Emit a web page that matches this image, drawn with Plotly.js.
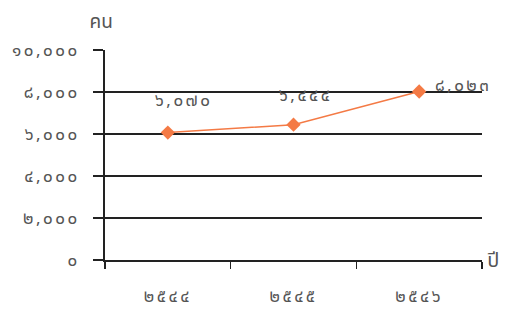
<!DOCTYPE html>
<html><head><meta charset="utf-8">
<script src="https://cdn.plot.ly/plotly-3.0.1.min.js"></script>
<style>
html,body{margin:0;padding:0;background:#fff;}
.xtick text, .ytick text, .annotation-text { letter-spacing: 2.5px; }
.annotation[data-index="3"] .annotation-text, .annotation[data-index="4"] .annotation-text { letter-spacing: 0; }
</style>
</head><body><div id="chart" style="width:529px;height:324px;"></div>
<script>
const years = ['๒๕๔๔', '๒๕๔๕', '๒๕๔๖'];
const people = [6070, 6444, 8023];
const pointLabels = ['๖,๐๗๐', '๖,๔๔๔', '๘,๐๒๓'];
const yTickVals = [0, 2000, 4000, 6000, 8000, 10000];
const yTickText = ['๐', '๒,๐๐๐', '๔,๐๐๐', '๖,๐๐๐', '๘,๐๐๐', '๑๐,๐๐๐'];
const labelShift = [[16, 32], [12, 29], [44, 6]];

const fam = 'Noto Sans Thai, Noto Sans, DejaVu Sans, sans-serif';
const font = {family: fam, size: 17, color: '#555'};

const trace = {
  x: years, y: people, type: 'scatter', mode: 'lines+markers',
  line: {color: '#F47A45', width: 1.5},
  marker: {symbol: 'diamond', size: 11, color: '#F47A45'},
  hoverinfo: 'none'
};

const annotations = years.map((yr, i) => ({
  x: yr, y: people[i], xref: 'x', yref: 'y', text: pointLabels[i],
  showarrow: false, xshift: labelShift[i][0], yshift: labelShift[i][1], font: font
}));
annotations.push({xref: 'paper', yref: 'paper', x: (101 - 105) / 377, y: (260 - 22) / 210, text: 'คน', showarrow: false, font: {family: fam, size: 19, color: '#555'}, xanchor: 'center', yanchor: 'middle'});
annotations.push({xref: 'paper', yref: 'paper', x: (494 - 105) / 377, y: -0.005, text: 'ปี', showarrow: false, font: {family: fam, size: 20, color: '#555'}, xanchor: 'center', yanchor: 'middle'});

const layout = {
  width: 529, height: 324,
  margin: {l: 105, r: 47, t: 50, b: 64},
  paper_bgcolor: '#fff', plot_bgcolor: '#fff',
  showlegend: false,
  font: font,
  xaxis: {
    type: 'category', range: [-0.5, 2.5], tickson: 'boundaries',
    ticks: 'outside', ticklen: 7, tickcolor: '#222', tickwidth: 1.5,
    showgrid: false, showline: true, linecolor: '#222', linewidth: 2,
    ticklabelstandoff: 20, tickfont: font, zeroline: false
  },
  yaxis: {
    range: [0, 10000], tickvals: yTickVals, ticktext: yTickText,
    ticks: 'outside', ticklen: 10, tickcolor: '#222', tickwidth: 1.5,
    showgrid: true, gridcolor: '#222', gridwidth: 1.5,
    showline: true, linecolor: '#222', linewidth: 2, zeroline: false,
    tickfont: font, ticklabelstandoff: 10
  },
  annotations: annotations
};

Plotly.newPlot('chart', [trace], layout, {staticPlot: true, displayModeBar: false});
</script></body></html>
